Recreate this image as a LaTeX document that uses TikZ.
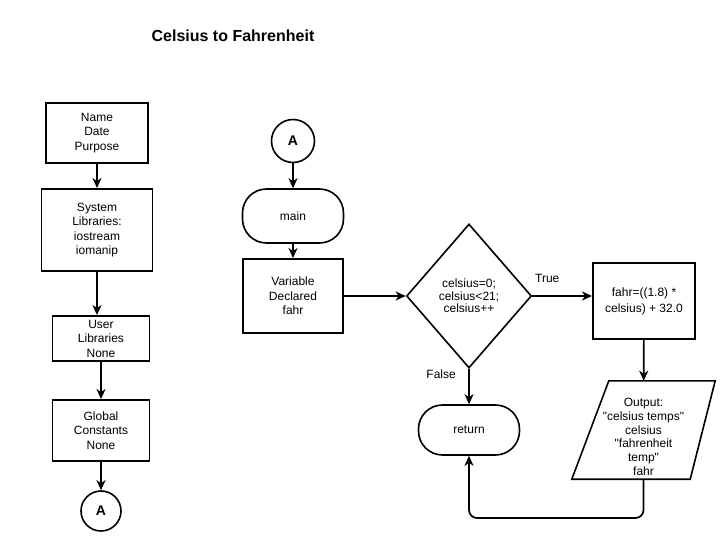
\documentclass[tikz,border=0pt]{standalone}
\usepackage{fontspec}
\setmainfont{Liberation Sans}[Ligatures=TeXOff]
\usetikzlibrary{shapes.geometric,arrows.meta}

\begin{document}
\begin{tikzpicture}[x=1pt,y=-1pt,
    every node/.style={font=\fontsize{12}{14.5}\selectfont, align=center},
    box/.style={draw, line width=1.9pt, inner sep=0pt},
    term/.style={draw, line width=1.6pt, inner sep=0pt, rounded corners=24pt},
    decision/.style={draw, diamond, line width=1.6pt, inner sep=0pt, font=\fontsize{12}{12.5}\selectfont},
    io/.style={inner sep=0pt, font=\fontsize{12}{13.8}\selectfont},
    conn/.style={draw, circle, line width=1.6pt, inner sep=0pt, font=\fontsize{14}{14}\selectfont\bfseries},
    flow/.style={line width=1.7pt, -{Stealth[length=10pt,width=9pt,inset=3pt]}}]
    \useasboundingbox (0,0) rectangle (723,553);

    % Title
    \node[font=\fontsize{16}{18}\selectfont\bfseries] (title) at (233,36) {Celsius to Fahrenheit};

    % Header column (before main)
    \node[box, minimum width=102pt, minimum height=60pt] (header) at (97,133) {Name\\Date\\Purpose};
    \node[box, minimum width=111pt, minimum height=82pt] (syslib) at (97,230) {System\\Libraries:\\iostream\\iomanip};
    \node[box, minimum width=97pt, minimum height=45pt] (userlib) at (101,338.5) {User\\Libraries\\None};
    \node[box, minimum width=97pt, minimum height=61pt] (globconst) at (101,430.5) {Global\\Constants\\None};
    \node[conn, minimum size=40pt] (conA1) at (101,511) {A};

    \draw[flow] (header) -- (syslib);
    \draw[flow] (syslib) -- (syslib |- userlib.north);
    \draw[flow] (userlib) -- (globconst);
    \draw[flow] (globconst) -- (conA1);

    % main and the loop
    \node[conn, minimum size=43pt] (conA2) at (293,141) {A};
    \node[term, minimum width=101pt, minimum height=54pt] (main) at (293,216) {main};
    \node[box, minimum width=100pt, minimum height=74pt] (vardecl) at (293,296) {Variable\\Declared\\fahr};
    \node[decision, minimum width=125pt, minimum height=144pt] (loop) at (469,296) {celsius=0;\\celsius<21;\\celsius++};
    \node[box, minimum width=102pt, minimum height=76pt, font=\fontsize{12}{16}\selectfont] (fahrcalc) at (644,301) {fahr=((1.8) *\\celsius) + 32.0};
    \node[io, minimum width=143pt, minimum height=98pt] (output) at (643.5,430)
        {\rule{0pt}{22pt}Output:\\"celsius temps"\\celsius\\"fahrenheit\\temp"\\fahr};
    % slanted outline of the output box
    \draw[line width=1.6pt] ([xshift=37pt]output.north west) -- (output.north east)
        -- ([xshift=-25pt]output.south east) -- (output.south west) -- cycle;
    \node[term, minimum width=101pt, minimum height=50pt] (return) at (469,430) {return};
    \coordinate (loopbase) at (469,518);

    \draw[flow] (conA2) -- (main);
    \draw[flow] (main) -- (vardecl);
    \draw[flow] (vardecl) -- (loop);
    \draw[flow] (loop) -- node[pos=0.25, above=9pt] {True} (loop -| fahrcalc.west);
    \draw[flow] (loop) -- node[pos=0.16, left=9pt] {False} (return);
    \draw[flow] (fahrcalc) -- (output);
    % back from the output to return
    \draw[flow, rounded corners=8pt] (output.south) |- (loopbase) -- (return.south);
\end{tikzpicture}
\end{document}
